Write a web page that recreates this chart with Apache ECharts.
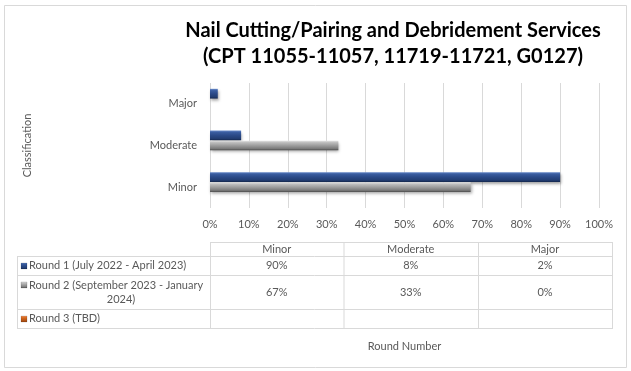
<!DOCTYPE html>
<html>
<head>
<meta charset="utf-8">
<script src="https://cdn.jsdelivr.net/npm/echarts@6/dist/echarts.min.js"></script>
<style>html,body{margin:0;padding:0;background:#fff}#c{width:631px;height:371px}</style>
</head>
<body>
<div id="c"></div>
<script>
// ---- data ----
var categories = ['Minor', 'Moderate', 'Major'];
var seriesNames = ['Round 1 (July 2022 - April 2023)', 'Round 2 (September 2023 - January 2024)', 'Round 3 (TBD)'];
var round1 = [90, 8, 2];
var round2 = [67, 33, 0];
var round3 = [null, null, null];
var xTicks = [0, 10, 20, 30, 40, 50, 60, 70, 80, 90, 100];

var FONT = 'Lato';
var TXT = '#595959';
var LINE = '#D9D9D9';

var chart = echarts.init(document.getElementById('c'), null, {renderer: 'canvas'});

function grad(stops) {
  return new echarts.graphic.LinearGradient(0, 0, 0, 1, stops.map(function (s) { return {offset: s[0], color: s[1]}; }));
}
var blueGrad = grad([[0, '#6A8CCB'], [0.18, '#3A5DA0'], [0.5, '#2B4A88'], [0.82, '#223D72'], [1, '#15284F']]);
var grayGrad = grad([[0, '#E6E6E6'], [0.2, '#BDBDBD'], [0.55, '#989898'], [0.82, '#7A7A7A'], [1, '#4A4A4A']]);
var orangeGrad = grad([[0, '#F4A070'], [0.3, '#D8691E'], [1, '#9A4410']]);
var keyColors = [blueGrad, grayGrad, orangeGrad];
var data = [round1, round2, round3];

// ---- table (data table under the plot) ----
var colX = [210, 343.5, 478, 612];
var tableLeft = 17;
var rowY = [242, 256, 275, 309, 328];
var g = [];
g.push({type: 'rect', shape: {x: 4.5, y: 5.5, width: 622, height: 362}, style: {fill: null, stroke: LINE, lineWidth: 1}, silent: true});
function hline(x1, x2, y) { g.push({type: 'line', shape: {x1: x1, y1: y + 0.5, x2: x2, y2: y + 0.5}, style: {stroke: LINE, lineWidth: 1}, silent: true}); }
function vline(x, y1, y2) { g.push({type: 'line', shape: {x1: x + 0.5, y1: y1, x2: x + 0.5, y2: y2}, style: {stroke: LINE, lineWidth: 1}, silent: true}); }
hline(colX[0], colX[3], rowY[0]);
for (var i = 1; i < rowY.length; i++) hline(tableLeft, colX[3], rowY[i]);
colX.forEach(function (x) { vline(x, rowY[0], rowY[4] + 1); });
vline(tableLeft, rowY[1], rowY[4] + 1);
function txt(x, y, s, align) {
  g.push({type: 'text', x: x, y: y, silent: true, style: {text: s, fill: TXT, font: '11px ' + FONT, align: align || 'center', verticalAlign: 'middle'}});
}
categories.forEach(function (c, j) { txt((colX[j] + colX[j + 1]) / 2, (rowY[0] + rowY[1]) / 2, c); });
data.forEach(function (arr, r) {
  var yc = (rowY[r + 1] + rowY[r + 2]) / 2;
  arr.forEach(function (v, j) {
    if (v !== null) txt((colX[j] + colX[j + 1]) / 2, yc, v + '%');
  });
  g.push({type: 'rect', shape: {x: 21, y: 0, width: 6, height: 6}, y: Math.round((r === 1 ? rowY[r + 1] + 10 : yc) - 3), style: {fill: keyColors[r], stroke: 'rgba(0,0,0,0.25)', lineWidth: 0.5}, silent: true});
  if (r === 1) {
    var parts = seriesNames[r].split(' January ');
    txt(29, rowY[r + 1] + 10, parts[0] + ' January', 'left');
    txt(121, rowY[r + 1] + 24, parts[1], 'center');
  } else {
    txt(29, yc, seriesNames[r], 'left');
  }
});

var series = data.map(function (arr, r) {
  return {
    name: seriesNames[r],
    type: 'bar',
    data: arr,
    barGap: '4%',
    barCategoryGap: '28%',
    itemStyle: {color: keyColors[r], shadowColor: 'rgba(0,0,0,0.35)', shadowBlur: 3, shadowOffsetY: 2, shadowOffsetX: 1}
  };
});

chart.setOption({
  animation: false,
  backgroundColor: '#fff',
  title: {
    text: 'Nail Cutting/Pairing and Debridement Services\n(CPT 11055-11057, 11719-11721, G0127)',
    left: 388, top: 13, textAlign: 'center',
    textStyle: {fontFamily: FONT, fontWeight: 'bold', fontSize: 20, lineHeight: 26, color: '#000'}
  },
  grid: {left: 210, right: 32, top: 83, bottom: 163, containLabel: false},
  xAxis: {
    type: 'value', min: 0, max: 100, interval: 10,
    axisLine: {show: false}, axisTick: {show: false},
    splitLine: {lineStyle: {color: LINE}},
    axisLabel: {formatter: '{value}%', color: TXT, fontFamily: FONT, fontSize: 11, margin: 11},
    name: 'Round Number', nameLocation: 'middle', nameGap: 133,
    nameTextStyle: {color: TXT, fontFamily: FONT, fontSize: 11}
  },
  yAxis: {
    type: 'category', data: categories,
    axisLine: {show: false}, axisTick: {show: false},
    axisLabel: {color: TXT, fontFamily: FONT, fontSize: 11, margin: 13},
    name: 'Classification', nameLocation: 'middle', nameGap: 177, nameRotate: 90,
    nameTextStyle: {color: TXT, fontFamily: FONT, fontSize: 11}
  },
  series: series,
  graphic: g
});
</script>
</body>
</html>
